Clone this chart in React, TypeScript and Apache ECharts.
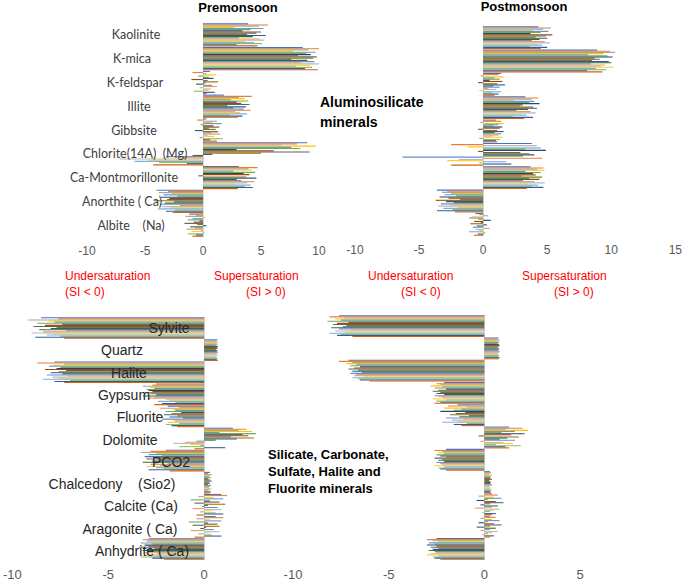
import React, { useEffect, useRef } from "react";
import * as echarts from "echarts";

// ---------- categories ----------
const alumCategories = [
  "Kaolinite",
  "K-mica",
  "K-feldspar",
  "Illite",
  "Gibbsite",
  "Chlorite(14A)  (Mg)",
  "Ca-Montmorillonite",
  "Anorthite ( Ca)",
  "Albite    (Na)",
];
const otherCategories = [
  "Sylvite",
  "Quartz",
  "Halite",
  "Gypsum",
  "Fluorite",
  "Dolomite",
  "PCO2",
  "Chalcedony    (Sio2)",
  "Calcite (Ca)",
  "Aragonite ( Ca)",
  "Anhydrite ( Ca)",
];

// ---------- Premonsoon, aluminosilicate minerals (SI per sample) ----------
const preKaolinite = [3.9, 5.6, 4.8, 2.7, 5.2, 4.1, 3.4, 5.0, 4.6, 3.8, 5.4, 4.3, 3.1, 4.9, 5.3, 3.6, 4.4, 5.1, 2.9, 4.7];
const preKmica = [8.6, 10.4, 9.1, 7.8, 9.7, 8.9, 9.3, 8.2, 9.8, 9.5, 7.6, 9.0, 9.6, 8.4, 10.0, 9.2, 8.0, 9.4, 8.8, 9.9];
const preKfeldspar = [0.6, -0.9, 0.3, 1.1, -0.4, 0.5, 0.9, -1.0, 0.4, 1.3, 0.2, -0.6, 0.8, 1.2, -0.3, 0.7, 0.5, -0.8, 1.0, 0.3];
const preIllite = [1.8, 4.2, 3.1, 3.6, 2.4, 3.9, 2.9, 3.3, 4.0, 2.1, 3.7, 2.6, 3.5, 4.1, 2.8, 3.2, 3.8, 2.3, 3.4, 3.0];
const preGibbsite = [0.3, -0.5, 1.2, 0.8, 1.6, -0.2, 0.9, 1.4, 0.5, 1.1, -0.7, 1.3, 0.7, 1.5, 0.4, 1.0, -0.3, 1.7, 0.6, 1.2];
const preChlorite = [9.0, 8.1, 6.8, 9.7, 7.6, 8.4, 2.9, 6.1, 9.2, 5.0, 0.8, -0.9, -3.2, -2.1, -7.2, -4.7, -5.9, -3.8, -1.4, -4.3];
const preCaMont = [3.1, 4.7, 3.9, 4.2, 2.6, 4.5, 3.5, 4.0, -0.4, 3.7, 4.6, 2.9, 3.3, 4.4, 3.8, 2.7, 4.1, 3.6, 4.3, 3.0];
const preAnorthite = [-4.0, -3.0, -3.8, -2.7, -3.4, -2.2, -3.6, -2.9, -3.1, -4.2, -2.5, -3.3, -3.7, -2.0, -3.5, -2.8, -3.9, -2.4, -3.2, -2.6];
const preAlbite = [-1.2, -0.6, -1.5, 0.2, -0.9, -1.3, -0.3, -0.8, -1.6, -0.5, 0.3, -1.1, -0.7, -1.4, -0.2, -1.0, 0.1, -1.3, -0.6, -0.9];

// ---------- Postmonsoon, aluminosilicate minerals ----------
const postKaolinite = [4.3, 5.3, 4.7, 3.9, 5.1, 4.5, 3.7, 5.4, 4.9, 4.1, 5.0, 4.4, 3.8, 4.8, 5.2, 4.2, 4.6, 3.6, 5.0, 4.5];
const postKmica = [8.9, 9.9, 10.3, 9.4, 8.2, 9.7, 10.1, 8.7, 9.1, 8.5, 9.8, 10.0, 8.4, 9.5, 9.2, 10.2, 8.8, 9.6, 8.1, 9.3];
const postKfeldspar = [1.4, 1.2, -0.2, 1.6, 0.9, 1.3, 0.5, 1.5, -0.4, 1.1, 1.7, 0.8, 1.3, 0.4, 1.0, -0.3, 1.4, 0.7, 1.2, 0.9];
const postIllite = [3.3, 4.3, 3.8, 2.4, 4.0, 3.6, 4.4, 3.1, 2.9, 3.9, 4.2, 3.5, 2.6, 3.7, 4.1, 3.0, 3.4, 2.3, 3.9, 3.2];
const postGibbsite = [1.0, 1.4, -0.2, 1.6, 1.2, 0.8, 1.5, 1.3, -0.4, 1.1, 1.6, 0.9, 1.4, 1.2, 0.7, 1.5, -0.3, 1.3, 1.0, 1.1];
const postChlorite = [3.8, -2.5, 4.2, -1.2, 4.5, 3.3, 4.9, -0.4, 2.9, 3.6, 4.0, 3.1, -6.3, 4.6, -1.9, -2.8, 1.8, -0.3, 2.2, -2.5];
const postCaMont = [3.7, 4.7, 4.2, 4.8, 3.3, 4.5, 3.9, 4.1, 3.0, 4.6, 3.6, 4.4, 3.1, 4.0, 4.8, 3.5, 4.3, 3.8, 4.7, 3.4];
const postAnorthite = [-3.6, -2.8, -3.2, -2.5, -3.0, -2.1, -3.4, -2.7, -1.8, -3.7, -2.9, -2.3, -3.3, -2.6, -3.5, -2.0, -3.1, -2.4, -3.6, -2.2];
const postAlbite = [-0.6, -0.3, 0.4, -0.9, -1.1, -0.4, 0.6, -0.7, -0.2, -1.0, 0.3, -0.5, -0.8, 0.5, -0.6, -0.3, -1.1, 0.2, -0.4, -0.7];

// ---------- Premonsoon, silicate / carbonate / sulfate / halite / fluorite ----------
const preSylvite = [-8.5, -7.6, -9.2, -8.1, -7.8, -8.7, -7.4, -8.3, -8.9, -7.7, -8.0, -8.6, -7.2, -8.4, -9.0, -7.9, -8.2, -7.5, -8.8, -7.3];
const preQuartz = [0.7, 0.6, 0.7, 0.65, 0.7, 0.6, 0.72, 0.68, 0.7, 0.62, 0.7, 0.66, 0.72, 0.6, 0.7, 0.68, 0.64, 0.7, 0.66, 0.72];
const preHalite = [-7.8, -8.7, -7.3, -7.9, -8.1, -7.5, -7.7, -8.3, -7.2, -7.6, -8.0, -7.4, -8.2, -7.1, -7.9, -7.6, -8.4, -7.0, -7.8, -7.3];
const preGypsum = [-2.5, -2.7, -3.2, -2.8, -2.6, -3.0, -2.9, -2.7, -3.1, -2.8, -2.5, -3.2, -2.6, -2.9, -2.0, -1.8, -2.4, -1.5, -2.2, -2.6];
const preFluorite = [-1.9, -1.3, -2.3, -1.6, -1.5, -2.0, -1.2, -1.7, -2.1, -1.4, -1.8, -1.1, -2.2, -1.6, -1.5, -1.9, -1.3, -2.0, -1.7, -1.4];
const preDolomite = [1.5, 2.2, 1.8, 2.5, 0.8, 2.7, 2.0, 2.3, 1.4, 2.6, 1.7, 0.6, -0.4, -1.0, -1.6, -0.7, -0.2, -1.3, 1.1, -0.5];
const prePCO2 = [-2.0, -2.8, -3.3, -2.5, -2.9, -2.2, -3.1, -2.6, -3.0, -2.4, -2.7, -3.2, -1.9, -2.8, -2.3, -3.0, -2.5, -2.1, -2.9, -1.8];
const preChalcedony = [0.3, 0.2, 0.4, 0.3, 0.25, 0.35, 0.2, 0.3, 0.4, 0.25, 0.3, 0.2, 0.35, 0.3, 0.25, 0.4, 0.3, 0.2, 0.35, 0.3];
const preCalcite = [0.9, 1.2, -0.3, 0.5, 1.0, -0.7, 0.3, 0.8, -0.5, 1.1, 0.2, -0.1, 0.7, -0.6, 0.9, 0.4, -0.2, 0.6, 1.0, -0.4];
const preAragonite = [0.6, 1.0, -0.4, 0.3, 0.9, -0.8, 0.2, 0.7, -0.6, 0.8, 0.1, -0.2, 0.5, -0.7, 0.8, 0.3, -0.3, 0.4, 0.9, -0.5];
const preAnhydrite = [-2.9, -3.2, -3.0, -2.8, -3.3, -2.7, -3.1, -2.9, -3.4, -2.6, -3.0, -3.2, -2.8, -3.1, -2.5, -3.0, -2.9, -3.3, -2.7, -2.1];

// ---------- Postmonsoon, silicate / carbonate / sulfate / halite / fluorite ----------
const postSylvite = [-7.6, -8.1, -7.3, -7.8, -7.5, -8.2, -7.1, -7.7, -7.9, -7.2, -7.4, -8.0, -7.6, -7.0, -7.8, -7.3, -8.1, -7.5, -7.7, -6.9];
const postQuartz = [0.75, 0.7, 0.8, 0.72, 0.78, 0.7, 0.76, 0.8, 0.74, 0.7, 0.78, 0.72, 0.8, 0.76, 0.7, 0.74, 0.78, 0.72, 0.8, 0.75];
const postHalite = [-7.1, -7.6, -6.9, -7.2, -6.7, -7.0, -6.5, -6.8, -7.1, -6.6, -6.9, -6.4, -7.0, -6.7, -6.8, -6.3, -6.9, -6.6, -6.5, -6.0];
const postGypsum = [-2.1, -2.5, -2.3, -2.8, -2.2, -2.6, -2.0, -2.4, -2.7, -2.3, -2.5, -2.1, -2.6, -2.4, -2.2, -2.7, -2.0, -2.5, -2.3, -2.6];
const postFluorite = [-1.4, -1.9, -0.9, -2.1, -1.2, -1.6, -2.3, -1.0, -1.5, -1.8, -0.8, -1.3, -2.0, -1.1, -1.7, -1.4, -2.2, -0.9, -1.6, -1.2];
const postDolomite = [1.3, 2.0, 1.1, 2.3, 1.6, 0.9, 2.1, 1.4, -0.3, 1.8, 1.2, 0.8, 1.6, -0.2, 1.0, 1.5, 0.6, 1.9, 1.1, 1.3];
const postPCO2 = [-2.0, -2.6, -2.2, -2.4, -2.1, -2.5, -2.3, -2.0, -2.6, -2.2, -2.4, -2.1, -2.5, -2.3, -2.2, -2.6, -2.1, -2.4, -2.3, -2.0];
const postChalcedony = [0.3, 0.35, 0.25, 0.4, 0.3, 0.35, 0.3, 0.4, 0.25, 0.3, 0.35, 0.3, 0.4, 0.3, 0.25, 0.35, 0.3, 0.4, 0.3, 0.35];
const postCalcite = [0.4, 0.7, -0.3, 0.5, 0.9, 0.2, -0.4, 0.6, 1.0, 0.3, -0.2, 0.7, 0.4, -0.5, 0.8, 0.5, 0.3, -0.1, 0.6, 0.4];
const postAragonite = [0.3, 0.6, -0.2, 0.4, 0.8, 0.2, -0.3, 0.5, 0.9, 0.3, -0.4, 0.6, 0.3, -0.2, 0.7, 0.4, 0.2, -0.1, 0.5, 0.3];
const postAnhydrite = [-2.5, -3.0, -2.7, -2.4, -2.9, -2.6, -3.0, -2.5, -2.8, -2.4, -2.7, -2.9, -2.6, -2.5, -2.8, -3.0, -2.4, -2.7, -2.6, -2.3];

// ---------- axis ticks ----------
const topLeftTicks = { min: -10, max: 10, interval: 5 };
const topRightTicks = { min: -10, max: 15, interval: 5 };
const bottomTicks = { min: -10, max: 5, interval: 5 };

// ---------- Excel-like series palette ----------
const colors = [
  "#4472C4", "#ED7D31", "#A5A5A5", "#FFC000", "#5B9BD5",
  "#70AD47", "#264478", "#9E480E", "#636363", "#997300",
  "#255E91", "#43682B", "#698ED0", "#F1975A", "#B7B7B7",
  "#FFCD33", "#7CAFDD", "#8CC168", "#335AA1", "#D26012",
];

const panels = [
  { cats: alumCategories, rows: [preKaolinite, preKmica, preKfeldspar, preIllite, preGibbsite, preChlorite, preCaMont, preAnorthite, preAlbite] },
  { cats: alumCategories, rows: [postKaolinite, postKmica, postKfeldspar, postIllite, postGibbsite, postChlorite, postCaMont, postAnorthite, postAlbite] },
  { cats: otherCategories, rows: [preSylvite, preQuartz, preHalite, preGypsum, preFluorite, preDolomite, prePCO2, preChalcedony, preCalcite, preAragonite, preAnhydrite] },
  { cats: otherCategories, rows: [postSylvite, postQuartz, postHalite, postGypsum, postFluorite, postDolomite, postPCO2, postChalcedony, postCalcite, postAragonite, postAnhydrite] },
];

// layout (pixels)
const grids = [
  { left: 87, right: 366, top: 23, height: 214 },
  { left: 355, right: 6, top: 26, height: 210 },
  { left: 7, right: 385, top: 317, height: 245 },
  { left: 293, right: 105, top: 315, height: 247 },
];
const topLabelCenters = [136, 132, 135, 139, 134, 135, 124, 122, 131];
const bottomLabelCenters = [169, 122, 129, 124, 140, 130, 171, 112, 141, 130, 142];

export default function App() {
  const ref = useRef<HTMLDivElement>(null);

  useEffect(() => {
    if (!ref.current) return;
    const chart = echarts.init(ref.current, null, { renderer: "svg" });
    const nSamples = preKaolinite.length;

    const series: any[] = [];
    panels.forEach((p, pi) => {
      for (let s = 0; s < nSamples; s++) {
        series.push({
          type: "bar",
          name: "Sample " + (s + 1),
          xAxisIndex: pi,
          yAxisIndex: pi,
          data: p.rows.map((r) => r[s]),
          itemStyle: { color: colors[s % colors.length] },
          barGap: "0%",
          barCategoryGap: "2%",
          silent: true,
        });
      }
    });

    const tickSets = [topLeftTicks, topRightTicks, bottomTicks, bottomTicks];
    const xAxis = tickSets.map((t, i) => ({
      type: "value",
      gridIndex: i,
      min: t.min,
      max: t.max,
      interval: t.interval,
      axisLine: { show: false },
      axisTick: { show: false },
      splitLine: { show: false },
      axisLabel: {
        color: "#595959",
        fontFamily: "Liberation Sans, Arial, sans-serif",
        fontSize: i < 2 ? 12 : 13,
        margin: 8,
        formatter: (v: number) => (i === 2 && v > 0 ? "" : String(v)),
      },
    }));
    const yAxis = panels.map((p, i) => ({
      type: "category",
      gridIndex: i,
      data: p.cats,
      inverse: true,
      axisLine: { show: true, onZero: true, lineStyle: { color: "#D9D9D9", width: 1 } },
      axisTick: { show: false },
      axisLabel: { show: false },
      splitLine: { show: false },
    }));

    const graphic: any[] = [];
    // category labels, top-left panel
    const g0 = grids[0];
    const band0 = g0.height / alumCategories.length;
    alumCategories.forEach((c, i) => {
      graphic.push({
        type: "text",
        x: topLabelCenters[i],
        y: g0.top + band0 * (i + 0.5),
        z: 100,
        style: {
          text: c,
          fill: "#404040",
          font: "12.5px Lato, 'Liberation Sans', sans-serif",
          align: "center",
          verticalAlign: "middle",
        },
      });
    });
    // category labels, bottom-left panel
    const g2 = grids[2];
    const band2 = g2.height / otherCategories.length;
    otherCategories.forEach((c, i) => {
      graphic.push({
        type: "text",
        x: bottomLabelCenters[i],
        y: g2.top + band2 * (i + 0.5),
        z: 100,
        style: {
          text: c,
          fill: "#262626",
          font: "14px 'Liberation Sans', Arial, sans-serif",
          align: "center",
          verticalAlign: "middle",
        },
      });
    });

    const bold = (size: number) => "bold " + size + "px 'Liberation Sans', Arial, sans-serif";
    graphic.push(
      { type: "text", x: 238, y: 7, z: 100, style: { text: "Premonsoon", fill: "#000", font: bold(13), align: "center", verticalAlign: "middle" } },
      { type: "text", x: 524, y: 6, z: 100, style: { text: "Postmonsoon", fill: "#000", font: bold(13), align: "center", verticalAlign: "middle" } },
      { type: "text", x: 320, y: 92, z: 100, style: { text: "Aluminosilicate\nminerals", fill: "#000", font: bold(14), lineHeight: 20, align: "left", verticalAlign: "top" } },
      { type: "text", x: 268, y: 446, z: 100, style: { text: "Silicate, Carbonate,\nSulfate, Halite and\nFluorite minerals", fill: "#000", font: bold(13), lineHeight: 17, align: "left", verticalAlign: "top" } }
    );
    const red = "12px 'Liberation Sans', Arial, sans-serif";
    const redTexts = [
      { t: "Undersaturation", x: 65, y: 276 },
      { t: "(SI < 0)", x: 65, y: 292 },
      { t: "Supersaturation", x: 214, y: 276 },
      { t: "(SI > 0)", x: 246, y: 292 },
      { t: "Undersaturation", x: 368, y: 276 },
      { t: "(SI < 0)", x: 401, y: 292 },
      { t: "Supersaturation", x: 522, y: 276 },
      { t: "(SI > 0)", x: 554, y: 292 },
    ];
    redTexts.forEach((r) =>
      graphic.push({ type: "text", x: r.x, y: r.y, z: 100, style: { text: r.t, fill: "#FF0000", font: red, align: "left", verticalAlign: "middle" } })
    );

    chart.setOption({
      animation: false,
      backgroundColor: "#ffffff",
      grid: grids.map((g) => ({ ...g, containLabel: false })),
      xAxis,
      yAxis,
      series,
      graphic,
    });
    return () => chart.dispose();
  }, []);

  return (
    <div
      ref={ref}
      style={{ position: "fixed", left: 0, top: 0, width: 685, height: 581, background: "#fff" }}
    />
  );
}
